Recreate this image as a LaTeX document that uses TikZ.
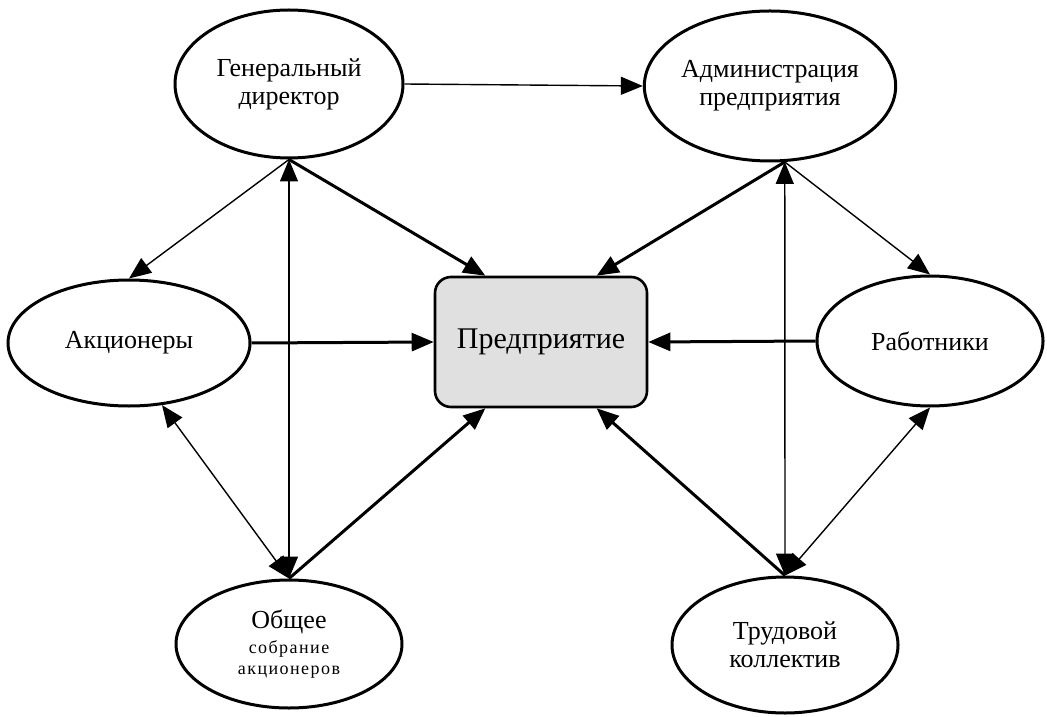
\documentclass[tikz,border=0pt]{standalone}
\usepackage{fontspec}
\setmainfont{Liberation Serif}
\usetikzlibrary{shapes.geometric,arrows.meta}
\newcommand\smallsp{\fontsize{9}{10.5}\selectfont\addfontfeatures{LetterSpace=8}}

\begin{document}
\begin{tikzpicture}[x=0.5pt,y=-0.5pt,
	>={Triangle[length=11pt,width=9pt]},
	party/.style={draw,ellipse,line width=1.5pt,inner sep=0pt,align=center,font=\fontsize{13}{14}\selectfont},
	firm/.style={draw,rounded corners=8pt,line width=1.3pt,fill=black!12,minimum width=106pt,minimum height=65pt,font=\fontsize{15}{18}\selectfont},
	weak/.style={line width=0.7pt},
	strong/.style={line width=1.5pt}]
\useasboundingbox (0,0) rectangle (1047,716);

\node[firm] (pr) at (541,342) {Предприятие};

\node[party,minimum width=114pt,minimum height=74pt] (gd) at (289,84) {Генеральный\\директор};
\node[party,minimum width=114pt,minimum height=75pt] (ap) at (770,86) {Администрация\\предприятия};
\node[party,minimum width=121pt,minimum height=63pt] (ak) at (129,343) {Акционеры};
\node[party,minimum width=113pt,minimum height=65pt] (rb) at (930,341) {Работники};
\node[party,minimum width=113pt,minimum height=64pt] (ob) at (289,644) {Общее\\[-1.5pt]{\smallsp собрание}\\[-3.5pt]{\smallsp акционеров}};
\node[party,minimum width=113pt,minimum height=68pt] (tk) at (785,645) {Трудовой\\коллектив};

\draw[weak,->] (gd.east) -- (ap.west);
\draw[weak,->] (gd.south) -- (ak.north);
\draw[weak,<->] (gd.south) -- (ob.north);
\draw[weak,<->] (ak.-62) -- (ob.north);
\draw[weak,->] (ap.-79) -- (rb.north);
\draw[weak,<->] (ap.-79) -- (tk.north);
\draw[weak,<->] (rb.south) -- (tk.north);

\draw[strong,->] (gd.south) -- (pr.130);
\draw[strong,->] (ap.-79) -- (pr.50);
\draw[strong,->] (ak.east) -- (pr.west);
\draw[strong,->] (rb.west) -- (pr.east);
\draw[strong,->] (ob.north) -- (pr.230);
\draw[strong,->] (tk.north) -- (pr.310);
\end{tikzpicture}
\end{document}
